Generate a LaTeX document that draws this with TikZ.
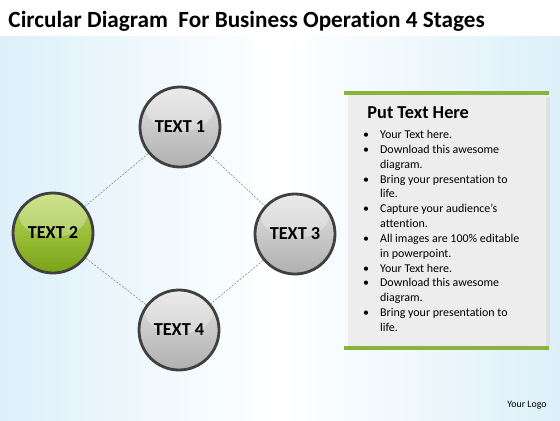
\documentclass[tikz,border=0pt]{standalone}
\usepackage{fontspec}
\setmainfont[Ligatures=NoCommon]{Carlito}
\usepackage{tikz}
\usetikzlibrary{positioning}
\definecolor{bgblue}{HTML}{DDF0FA}
\definecolor{barGreen}{HTML}{8AB33C}
\definecolor{limeTop}{HTML}{BBDA5E}
\definecolor{limeBot}{HTML}{7AA317}
\tikzset{
ball/.style={ % Sets the properties for each stage circle
circle,
minimum size=40mm,
draw=black!75,
line width=1.4mm,
top color=gray!22,
bottom color=gray!62,
path picture={\fill[white,opacity=0.28] ([yshift=9mm]path picture bounding box.center) ellipse [x radius=17mm, y radius=11mm];},
font=\bfseries\fontsize{26}{26}\selectfont},
greenball/.style={ball,
top color=limeTop,
bottom color=limeBot},
link/.style={ % Dashed connector between stages
densely dashed,
black!65,
line width=0.5pt}}

\begin{document}
\begin{tikzpicture}[x=0.5mm,y=-0.5mm]
\useasboundingbox (0,0) rectangle (560,420);
% background
\fill[white] (0,0) rectangle (560,420);
\shade[left color=bgblue, right color=bgblue, middle color=white] (0,36) rectangle (560,420);
\node[anchor=west, font=\bfseries\fontsize{33}{33}\selectfont] (title) at (6,21) {Circular Diagram\ \ For Business Operation 4 Stages};
% stages
\node[ball] (s1) at (180,127) {TEXT 1};
\node[greenball] (s2) at (53,233) {TEXT 2};
\node[ball] (s3) at (295,234) {TEXT 3};
\node[ball] (s4) at (179,330) {TEXT 4};
\draw[link] (s1) -- (s2);
\draw[link] (s1) -- (s3);
\draw[link] (s2) -- (s4);
\draw[link] (s3) -- (s4);
% text panel
\fill[black!12] (545,97) rectangle (550,346);
\fill[gray!14] (348,94) rectangle (546,347);
\draw[barGreen, line width=2mm] (344,93) -- (549,93);
\draw[barGreen, line width=2mm] (344,348) -- (549,348);
\node[anchor=west, font=\bfseries\fontsize{26}{26}\selectfont] (head) at (365,113) {Put Text Here};
\node[anchor=north west, inner sep=0pt, font=\fontsize{17}{21.1}\selectfont] (body) at (363,128) {%
\begin{tabular}{@{}p{8.5mm}@{}l@{}}
\textbullet & Your Text here.\\
\textbullet & Download this awesome\\
 & diagram.\\
\textbullet & Bring your presentation to\\
 & life.\\
\textbullet & Capture your audience’s\\
 & attention.\\
\textbullet & All images are 100\% editable\\
 & in powerpoint.\\
\textbullet & Your Text here.\\
\textbullet & Download this awesome\\
 & diagram.\\
\textbullet & Bring your presentation to\\
 & life.
\end{tabular}};
\node[anchor=east, font=\fontsize{14}{14}\selectfont] (logo) at (549,405) {Your Logo};
\end{tikzpicture}
\end{document}
